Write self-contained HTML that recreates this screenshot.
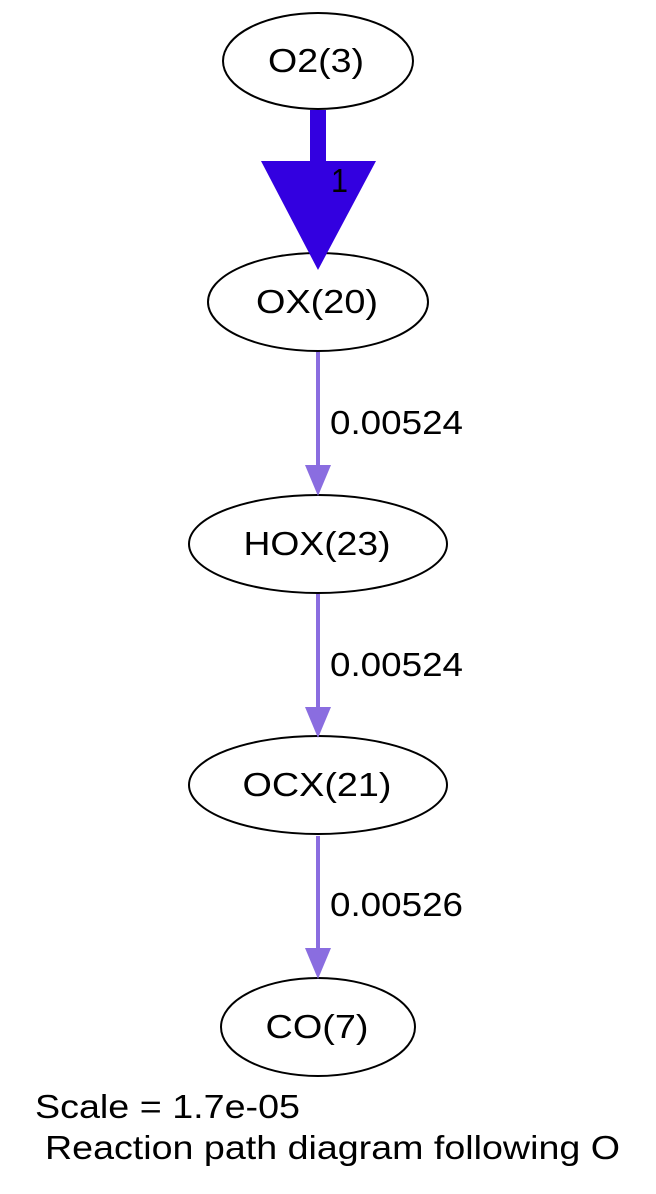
<!DOCTYPE html>
<html><head><style>body{margin:0;background:#fff}svg{display:block}</style></head><body>
<svg width="656" height="1194" xmlns="http://www.w3.org/2000/svg" font-family="Liberation Sans, sans-serif">
<rect width="656" height="1194" fill="#fff"/>
<g fill="none" stroke="#000" stroke-width="2">
<ellipse cx="318" cy="61" rx="95" ry="48"/>
<ellipse cx="318" cy="302" rx="110" ry="49"/>
<ellipse cx="318" cy="544" rx="129" ry="49"/>
<ellipse cx="318" cy="785" rx="129" ry="49"/>
<ellipse cx="318" cy="1027" rx="97" ry="49"/>
</g>
<line x1="318" y1="110" x2="318" y2="165" stroke="#3300e0" stroke-width="16"/>
<polygon points="261,161 376,161 318,270" fill="#3300e0"/>
<g stroke="#8a6de0" stroke-width="4">
<line x1="318" y1="352" x2="318" y2="470"/>
<line x1="318" y1="594" x2="318" y2="712"/>
<line x1="318" y1="836" x2="318" y2="953"/>
</g>
<g fill="#8a6de0">
<polygon points="305,465 331,465 318,496"/>
<polygon points="305,707 331,707 318,738"/>
<polygon points="305,948 331,948 318,979"/>
</g>
<g font-size="33" text-anchor="middle" fill="#000">
<text x="316" y="72" textLength="96" lengthAdjust="spacingAndGlyphs">O2(3)</text>
<text x="317" y="313" textLength="122" lengthAdjust="spacingAndGlyphs">OX(20)</text>
<text x="317" y="555" textLength="147" lengthAdjust="spacingAndGlyphs">HOX(23)</text>
<text x="317" y="796" textLength="149" lengthAdjust="spacingAndGlyphs">OCX(21)</text>
<text x="317" y="1038" textLength="103" lengthAdjust="spacingAndGlyphs">CO(7)</text>
</g>
<g font-size="33" fill="#000">
<text x="331" y="192" textLength="17" lengthAdjust="spacingAndGlyphs">1</text>
<text x="330" y="434" textLength="133" lengthAdjust="spacingAndGlyphs">0.00524</text>
<text x="330" y="676" textLength="133" lengthAdjust="spacingAndGlyphs">0.00524</text>
<text x="330" y="916" textLength="133" lengthAdjust="spacingAndGlyphs">0.00526</text>
<text x="35" y="1118" textLength="265" lengthAdjust="spacingAndGlyphs">Scale = 1.7e-05</text>
<text x="45" y="1159" textLength="575" lengthAdjust="spacingAndGlyphs">Reaction path diagram following O</text>
</g>
</svg>
</body></html>
